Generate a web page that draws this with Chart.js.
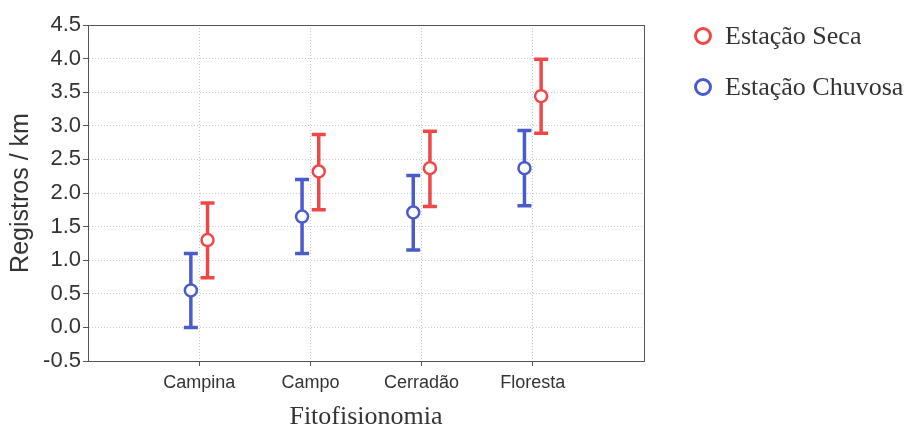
<!DOCTYPE html>
<html>
<head>
<meta charset="utf-8">
<script src="https://cdn.jsdelivr.net/npm/chart.js@4/dist/chart.umd.min.js"></script>
<style>
	html, body { margin: 0; padding: 0; background: #fff; }
	#wrap { width: 906px; height: 430px; }
</style>
</head>
<body>
<div id="wrap"><canvas id="chart" width="906" height="430"></canvas></div>
<script>
// categories on the x axis
const categories = ['Campina', 'Campo', 'Cerradão', 'Floresta'];

// Estação Seca (mean, lower, upper)
const secaMean = [1.3, 2.32, 2.37, 3.44];
const secaLow = [0.74, 1.75, 1.8, 2.89];
const secaHigh = [1.85, 2.87, 2.92, 3.99];

// Estação Chuvosa (mean, lower, upper)
const chuvaMean = [0.55, 1.65, 1.71, 2.37];
const chuvaLow = [0.0, 1.1, 1.15, 1.81];
const chuvaHigh = [1.1, 2.2, 2.26, 2.93];

const yTicks = [-0.5, 0, 0.5, 1, 1.5, 2, 2.5, 3, 3.5, 4, 4.5];

const RED = '#f04848';
const BLUE = '#4a5ccc';
const shift = 0.075; // horizontal offset of the two series

function makePoints(means, lows, highs, dx) {
	return means.map((m, i) => ({ x: i + 1 + dx, y: m, lo: lows[i], hi: highs[i] }));
}

/************  PLUGINS  ************/

// error bars under the points
const errorBars = {
	id: 'errorBars',
	beforeDatasetsDraw(chart) {
		const { ctx, scales } = chart;
		ctx.save();
		chart.data.datasets.forEach(ds => {
			ctx.strokeStyle = ds.borderColor;
			ctx.lineWidth = 3.5;
			ds.data.forEach(p => {
				const x = scales.x.getPixelForValue(p.x);
				const yLo = scales.y.getPixelForValue(p.lo);
				const yHi = scales.y.getPixelForValue(p.hi);
				ctx.beginPath();
				ctx.moveTo(x, yLo);
				ctx.lineTo(x, yHi);
				ctx.moveTo(x - 7, yLo);
				ctx.lineTo(x + 7, yLo);
				ctx.moveTo(x - 7, yHi);
				ctx.lineTo(x + 7, yHi);
				ctx.stroke();
			});
		});
		ctx.restore();
	}
};

// box around the plot and the legend on the right
const frameAndLegend = {
	id: 'frameAndLegend',
	afterDraw(chart) {
		const { ctx, chartArea: a } = chart;
		ctx.save();
		ctx.strokeStyle = '#555';
		ctx.lineWidth = 1;
		ctx.strokeRect(a.left + 0.5, a.top + 0.5, a.right - a.left, a.bottom - a.top);

		ctx.font = '26px "Liberation Serif", "Times New Roman", serif';
		ctx.textBaseline = 'middle';
		ctx.fillStyle = '#333';
		chart.data.datasets.forEach((ds, i) => {
			const y = 36 + i * 51;
			ctx.beginPath();
			ctx.arc(703, y, 7.5, 0, Math.PI * 2);
			ctx.lineWidth = 3;
			ctx.strokeStyle = ds.borderColor;
			ctx.stroke();
			ctx.fillText(ds.label, 725, y + 1);
		});
		ctx.restore();
	}
};

/************  CHART  ************/

const ctx = document.getElementById('chart').getContext('2d');
const chart = new Chart(ctx, {
	type: 'scatter',
	data: {
		datasets: [
			{
				label: 'Estação Seca',
				data: makePoints(secaMean, secaLow, secaHigh, shift),
				borderColor: RED,
				backgroundColor: '#fff',
				pointRadius: 6,
				pointBorderWidth: 2.5,
			},
			{
				label: 'Estação Chuvosa',
				data: makePoints(chuvaMean, chuvaLow, chuvaHigh, -shift),
				borderColor: BLUE,
				backgroundColor: '#fff',
				pointRadius: 6,
				pointBorderWidth: 2.5,
			},
		],
	},
	options: {
		responsive: false,
		animation: false,
		layout: { padding: { left: 0, top: 25, right: 262, bottom: 0 } },
		plugins: {
			legend: { display: false },
			tooltip: { enabled: false },
		},
		scales: {
			x: {
				type: 'linear',
				min: 0,
				max: 5,
				afterBuildTicks: scale => {
					scale.ticks = categories.map((c, i) => ({ value: i + 1 }));
				},
				afterFit: scale => { scale.height = 69; },
				ticks: {
					callback: v => categories[v - 1] || '',
					font: { family: '"Liberation Sans", Arial, sans-serif', size: 18 },
					color: '#333',
					padding: 6,
					maxRotation: 0,
				},
				grid: {
					color: '#c4c8e2',
					tickColor: '#555',
					tickLength: 5,
					tickBorderDash: [],
				},
				border: { color: '#555', dash: [1, 2] },
				title: {
					display: true,
					text: 'Fitofisionomia',
					font: { family: '"Liberation Serif", "Times New Roman", serif', size: 26, lineHeight: 1 },
					color: '#333',
					padding: 0,
				},
			},
			y: {
				min: -0.5,
				max: 4.5,
				afterBuildTicks: scale => {
					scale.ticks = yTicks.map(v => ({ value: v }));
				},
				afterFit: scale => { scale.width = 88; },
				ticks: {
					callback: v => v.toFixed(1),
					font: { family: '"Liberation Sans", Arial, sans-serif', size: 22 },
					color: '#333',
					padding: 2,
				},
				grid: {
					color: '#c4c8e2',
					tickColor: '#555',
					tickLength: 5,
					tickBorderDash: [],
				},
				border: { color: '#555', dash: [1, 2] },
				title: {
					display: true,
					text: 'Registros / km',
					font: { family: '"Liberation Sans", Arial, sans-serif', size: 25, lineHeight: 1 },
					color: '#333',
					padding: { top: 9, bottom: 0 },
				},
			},
		},
	},
	plugins: [errorBars, frameAndLegend],
});
</script>
</body>
</html>
